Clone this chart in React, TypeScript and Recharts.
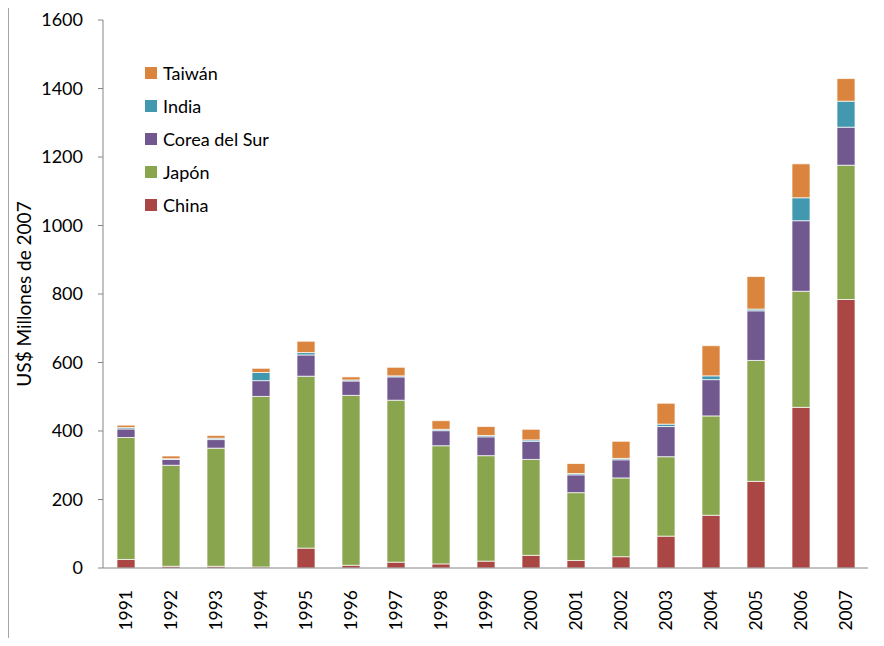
import { Bar, BarChart, XAxis, YAxis } from "recharts"

// values (US$ millones de 2007)
const years = ["1991", "1992", "1993", "1994", "1995", "1996", "1997", "1998", "1999", "2000", "2001", "2002", "2003", "2004", "2005", "2006", "2007"]
const china = [25, 5, 5, 3, 58, 8, 17, 12, 20, 37, 22, 33, 93, 154, 253, 469, 784]
const japon = [356, 295, 345, 498, 502, 496, 473, 345, 308, 280, 198, 230, 232, 290, 353, 339, 392]
const corea = [25, 17, 25, 46, 62, 42, 68, 44, 55, 53, 52, 53, 88, 106, 145, 206, 111]
const india = [4, 2, 4, 24, 7, 3, 3, 4, 4, 4, 4, 4, 7, 11, 5, 67, 76]
const taiwan = [7, 8, 8, 12, 33, 9, 25, 25, 26, 31, 29, 50, 61, 88, 95, 99, 66]
const yTicks = [0, 200, 400, 600, 800, 1000, 1200, 1400, 1600]

const series = [
  { key: "china", name: "China", color: "#AA4643" },
  { key: "japon", name: "Japón", color: "#89A54E" },
  { key: "corea", name: "Corea del Sur", color: "#71588F" },
  { key: "india", name: "India", color: "#4198AF" },
  { key: "taiwan", name: "Taiwán", color: "#DB843D" },
]

const data = years.map((year, i) => ({
  year,
  china: china[i],
  japon: japon[i],
  corea: corea[i],
  india: india[i],
  taiwan: taiwan[i],
}))

const edgeTicks = years.map((_, i) => i).concat([years.length])

const FONT = "Lato, 'Open Sans', sans-serif"
const AXIS = "#868686"

const YearTick = (props: any) => {
  const { x, y, payload } = props
  return (
    <text
      x={x}
      y={y}
      dy="0.36em"
      transform={`rotate(-90, ${x}, ${y})`}
      textAnchor="end"
      fontSize={17.5}
      fontFamily={FONT}
      fill="#000"
    >
      {payload.value}
    </text>
  )
}

// legend drawn by hand, top series first like the original
const LegendBox = () => (
  <div style={{ position: "absolute", left: 145, top: 56, fontFamily: FONT, fontSize: 18, color: "#000" }}>
    {[...series].reverse().map((s) => (
      <div key={s.key} style={{ display: "flex", alignItems: "center", height: 33 }}>
        <span style={{ width: 12, height: 12, background: s.color, marginRight: 6, display: "inline-block" }} />
        <span>{s.name}</span>
      </div>
    ))}
  </div>
)

const App = () => {
  return (
    <div style={{ position: "relative", margin: -8, width: 884, height: 646, overflow: "hidden", background: "#fff" }}>
      <div
        style={{
          position: "absolute",
          left: 8,
          top: 6,
          right: -2,
          bottom: -2,
          borderLeft: "1px solid #a6a6a6",
          borderTop: "1px solid #a6a6a6",
        }}
      />
      <div style={{ position: "absolute", left: 0, top: 0 }}>
        <BarChart width={884} height={646} data={data} margin={{ top: 20, right: 16, left: 0, bottom: 0 }}>
          <XAxis
            xAxisId="a"
            type="number"
            domain={[0, years.length]}
            ticks={edgeTicks}
            tick={false}
            tickSize={6}
            height={8}
            axisLine={{ stroke: AXIS }}
            tickLine={{ stroke: AXIS }}
          />
          <XAxis
            xAxisId="b"
            dataKey="year"
            axisLine={false}
            tickLine={false}
            tickSize={6}
            tickMargin={8}
            height={70}
            interval={0}
            tick={<YearTick />}
          />
          <YAxis
            width={103}
            domain={[0, 1600]}
            ticks={yTicks}
            tickSize={5}
            tickMargin={15}
            axisLine={{ stroke: AXIS }}
            tickLine={{ stroke: AXIS }}
            tick={{ fontSize: 18, fontFamily: FONT, fill: "#000" }}
            label={{
              content: (p: any) => {
                const vb = p.viewBox || { y: 20, height: 548 }
                const cy = vb.y + vb.height / 2
                return (
                  <text
                    x={23}
                    y={cy}
                    transform={`rotate(-90, 23, ${cy})`}
                    textAnchor="middle"
                    dominantBaseline="central"
                    fontSize={19}
                    fontFamily={FONT}
                    fill="#000"
                  >
                    US$ Millones de 2007
                  </text>
                )
              },
            }}
          />
          {series.map((s) => (
            <Bar
              key={s.key}
              xAxisId="b"
              dataKey={s.key}
              name={s.name}
              stackId="total"
              fill={s.color}
              stroke="#ffffff"
              strokeOpacity={0.7}
              strokeWidth={1}
              barSize={18}
              isAnimationActive={false}
            />
          ))}
        </BarChart>
      </div>
      <LegendBox />
    </div>
  )
}

export default App
